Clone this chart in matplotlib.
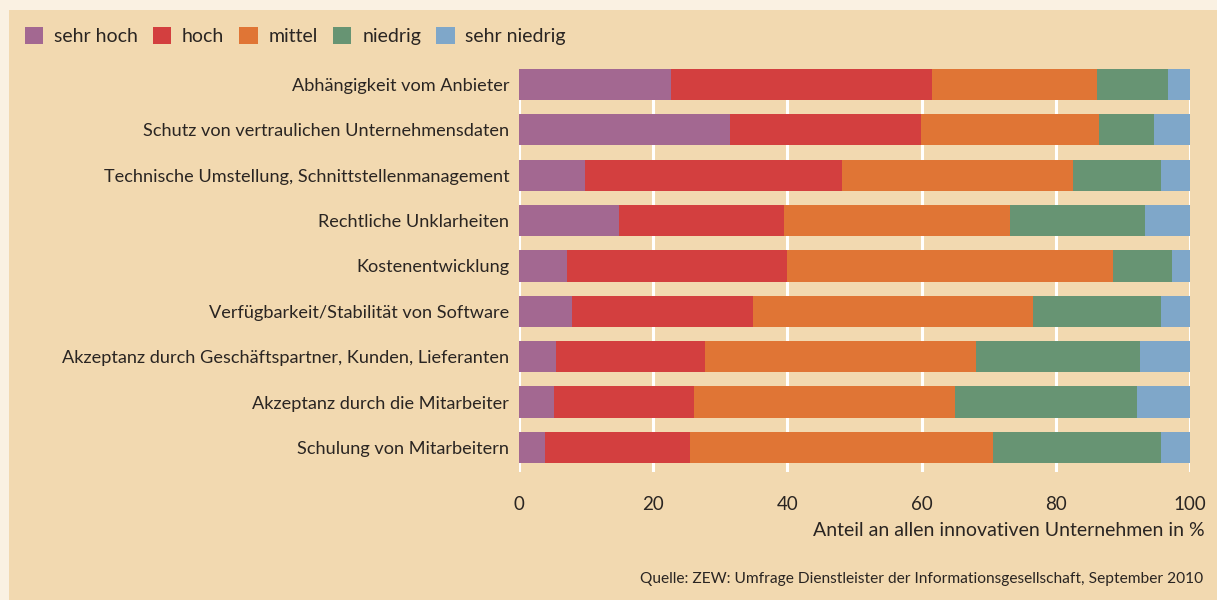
import matplotlib
matplotlib.use("Agg")
import matplotlib.pyplot as plt
from matplotlib.patches import Rectangle, Patch
import numpy as np

plt.rcParams['font.family'] = ['Lato', 'DejaVu Sans']

categories = [
    "Abhängigkeit vom Anbieter",
    "Schutz von vertraulichen Unternehmensdaten",
    "Technische Umstellung, Schnittstellenmanagement",
    "Rechtliche Unklarheiten",
    "Kostenentwicklung",
    "Verfügbarkeit/Stabilität von Software",
    "Akzeptanz durch Geschäftspartner, Kunden, Lieferanten",
    "Akzeptanz durch die Mitarbeiter",
    "Schulung von Mitarbeitern",
]
series_names = ["sehr hoch", "hoch", "mittel", "niedrig", "sehr niedrig"]
sehr_hoch    = [22.7, 31.4,  9.8, 14.9,  7.2,  7.9,  5.5,  5.2,  3.9]
hoch         = [38.8, 28.5, 38.3, 24.6, 32.7, 27.0, 22.2, 20.9, 21.6]
mittel       = [24.6, 26.5, 34.5, 33.7, 48.6, 41.7, 40.4, 38.9, 45.1]
niedrig      = [10.6,  8.2, 13.1, 20.1,  8.8, 19.1, 24.4, 27.1, 25.1]
sehr_niedrig = [ 3.3,  5.4,  4.3,  6.7,  2.7,  4.3,  7.5,  7.9,  4.3]
xticks = [0, 20, 40, 60, 80, 100]
xlabel = "Anteil an allen innovativen Unternehmen in %"
source = "Quelle: ZEW: Umfrage Dienstleister der Informationsgesellschaft, September 2010"

colors = ["#A36891", "#D33F3F", "#E07535", "#679473", "#7FA7C9"]
panel = "#F2D9B0"
outer = "#FAF1E2"
txt = "#2A2522"

W, H = 1217, 600
fig = plt.figure(figsize=(W/100, H/100), dpi=100, facecolor=outer)
fig.patches.append(Rectangle((9/W, 0), 1 - 9/W, 1 - 10/H, transform=fig.transFigure,
                             facecolor=panel, edgecolor='none', zorder=-10))

# axes: x 519..1190, y 69..472 (pixels from top)
ax = fig.add_axes([519/W, 1 - 472/H, (1190-519)/W, (472-69)/H])
ax.set_facecolor('none')
ax.set_zorder(5)

data = [sehr_hoch, hoch, mittel, niedrig, sehr_niedrig]
y = np.arange(len(categories))
left = np.zeros(len(categories))
for vals, c, name in zip(data, colors, series_names):
    ax.barh(y, vals, left=left, height=0.69, color=c, zorder=3, label=name)
    left += np.array(vals)

ax.set_xlim(0, 100)
ax.set_ylim(8.54, -0.34)
ax.set_yticks(y)
ax.set_yticklabels(categories, fontsize=13.1, color=txt)
ax.set_xticks(xticks)
ax.set_xticklabels([str(t) for t in xticks], fontsize=13.5, color=txt)
ax.tick_params(axis='both', length=0)
ax.tick_params(axis='y', pad=7)
ax.tick_params(axis='x', pad=17)
for s in ax.spines.values():
    s.set_visible(False)
for t in xticks:
    ax.axvline(t, color='white', lw=2.2, zorder=1)

fig.text(1205/W, 1 - 531/H, xlabel, ha='right', va='center', fontsize=14, color=txt)
fig.text(1203/W, 1 - 579/H, source, ha='right', va='center', fontsize=11.2, color=txt)

handles = [Patch(facecolor=c, edgecolor='none') for c in colors]
fig.legend(handles, series_names, loc='center left', bbox_to_anchor=(7/W, 1 - 36/H),
           ncol=5, frameon=False, fontsize=14, handlelength=0.95, handleheight=1.0,
           handletextpad=0.55, columnspacing=0.78, labelcolor=txt)

fig.savefig("out.png", dpi=100, facecolor=outer)
